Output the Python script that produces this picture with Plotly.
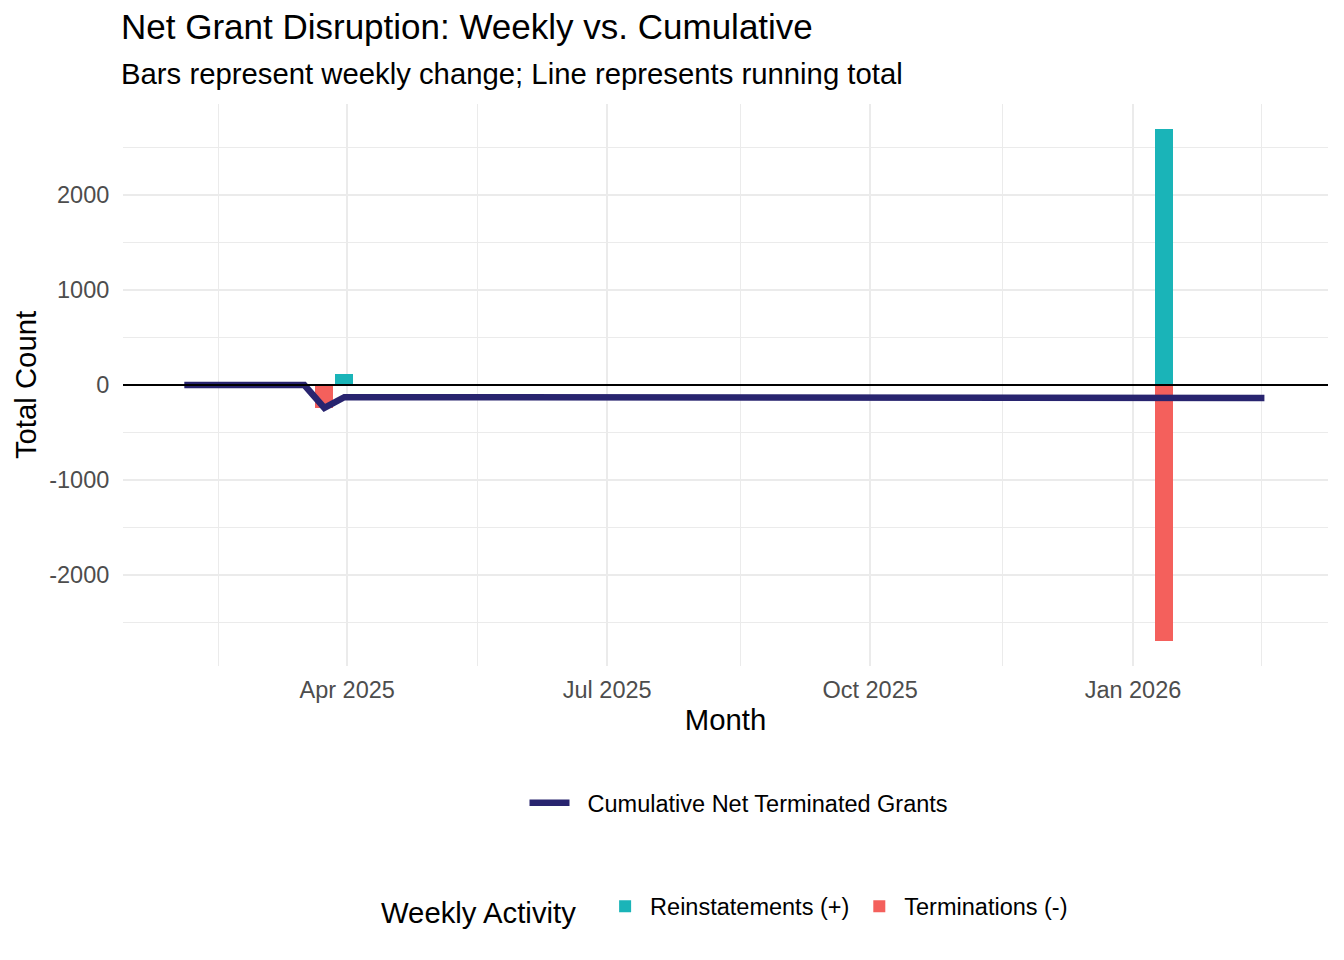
import pandas as pd
import numpy as np
import plotly.graph_objects as go

# ---- data ----
week_first = "2025-02-03"
week_last = "2026-02-16"
activity_weeks = ["2025-03-24", "2025-03-31", "2025-09-29", "2026-01-12"]
reinstatements = [0, 112, 0, 2690]
terminations = [-240, 0, -10, -2690]

x_tick_dates = ["2025-04-01", "2025-07-01", "2025-10-01", "2026-01-01"]
x_tick_labels = ["Apr 2025", "Jul 2025", "Oct 2025", "Jan 2026"]
x_minor_dates = ["2025-02-15", "2025-05-16 12:00", "2025-08-16 12:00",
                 "2025-11-16 12:00", "2026-02-15"]
y_tick_vals = [-2000, -1000, 0, 1000, 2000]
y_tick_labels = ["-2000", "-1000", "0", "1000", "2000"]
y_minor_vals = [-2500, -1500, -500, 500, 1500, 2500]

# ---- build weekly table ----
weeks = pd.date_range(week_first, week_last, freq="7D")
df = pd.DataFrame({"week": weeks})
act = pd.DataFrame({"week": pd.to_datetime(activity_weeks),
                    "reinst": reinstatements, "term": terminations})
df = df.merge(act, on="week", how="left").fillna(0)
df["cum"] = np.cumsum(df["reinst"] + df["term"])

FONT = "Liberation Sans, Arial, Helvetica, sans-serif"
TEAL = "#1AB4B8"
RED = "#F4605C"
NAVY = "#28246F"
GRID = "#EBEBEB"
bar_w = 6.3 * 24 * 3600 * 1000
NB = "\u00a0"

fig = go.Figure()
fig.add_trace(go.Bar(x=df["week"], y=df["reinst"], width=bar_w,
                     marker=dict(color=TEAL, line=dict(width=0)),
                     name="Reinstatements (+)", legend="legend2"))
fig.add_trace(go.Bar(x=df["week"], y=df["term"], width=bar_w,
                     marker=dict(color=RED, line=dict(width=0)),
                     name="Terminations (-)", legend="legend2"))
fig.add_trace(go.Scatter(x=df["week"], y=df["cum"], mode="lines",
                         line=dict(color=NAVY, width=6.5),
                         name=NB * 2 + "Cumulative Net Terminated Grants",
                         legend="legend"))

fig.add_shape(type="line", xref="paper", x0=0, x1=1, yref="y", y0=0, y1=0,
              line=dict(color="black", width=2), layer="above")

# page body has an 8px margin; panel spans screen x 123..1328, y 104..666
OFF = 8
PANEL_TOP, PANEL_BOTTOM = 104, 666
H_PLOT = PANEL_BOTTOM - PANEL_TOP
W_PLOT = 1328 - 123

def py(pix):
    return (PANEL_BOTTOM - pix) / H_PLOT

def px(pix):
    return (pix - 123) / W_PLOT

fig.add_annotation(text="Net Grant Disruption: Weekly vs. Cumulative",
                   xref="paper", yref="paper", x=px(119), y=py(27), xanchor="left",
                   yanchor="middle", showarrow=False,
                   font=dict(family=FONT, size=35, color="black"))
fig.add_annotation(text="Bars represent weekly change; Line represents running total",
                   xref="paper", yref="paper", x=px(119), y=py(73), xanchor="left",
                   yanchor="middle", showarrow=False,
                   font=dict(family=FONT, size=29.3, color="black"))

fig.update_layout(
    width=1344 - OFF, height=960 - OFF,
    margin=dict(l=123 - OFF, r=16, t=PANEL_TOP - OFF, b=960 - PANEL_BOTTOM),
    paper_bgcolor="white", plot_bgcolor="white",
    barmode="relative", bargap=0,
    font=dict(family=FONT, color="black"),
    xaxis=dict(
        type="date",
        range=["2025-01-12 13:00", "2026-03-10 06:00"],
        tickvals=x_tick_dates, ticktext=x_tick_labels,
        tickfont=dict(family=FONT, size=23.5, color="#4D4D4D"),
        ticks="outside", ticklen=3, tickcolor="rgba(0,0,0,0)",
        showgrid=True, gridcolor=GRID, gridwidth=2,
        minor=dict(tickvals=x_minor_dates, showgrid=True, gridcolor=GRID,
                   gridwidth=1, ticks=""),
        zeroline=False, showline=False,
        title=dict(text="Month", font=dict(family=FONT, size=29.3, color="black"),
                   standoff=7),
    ),
    yaxis=dict(
        range=[-2958, 2958],
        tickvals=y_tick_vals, ticktext=y_tick_labels,
        tickfont=dict(family=FONT, size=23.5, color="#4D4D4D"),
        ticks="outside", ticklen=8, tickcolor="rgba(0,0,0,0)",
        showgrid=True, gridcolor=GRID, gridwidth=2,
        minor=dict(tickvals=y_minor_vals, showgrid=True, gridcolor=GRID,
                   gridwidth=1, ticks=""),
        zeroline=False, showline=False,
        title=dict(text="Total Count", font=dict(family=FONT, size=29.3, color="black"),
                   standoff=3),
    ),
    legend=dict(orientation="h", x=px(739), xanchor="center",
                y=py(803), yanchor="middle",
                font=dict(family=FONT, size=23.5, color="black"),
                bgcolor="rgba(0,0,0,0)", itemwidth=40),
    legend2=dict(orientation="h", x=px(726), xanchor="center",
                 y=py(909), yanchor="middle",
                 title=dict(text="Weekly Activity  ", side="left",
                            font=dict(family=FONT, size=29.3, color="black")),
                 font=dict(family=FONT, size=23.5, color="black"),
                 bgcolor="rgba(0,0,0,0)", itemwidth=40),
    showlegend=True,
)

fig.write_html("out.html")
